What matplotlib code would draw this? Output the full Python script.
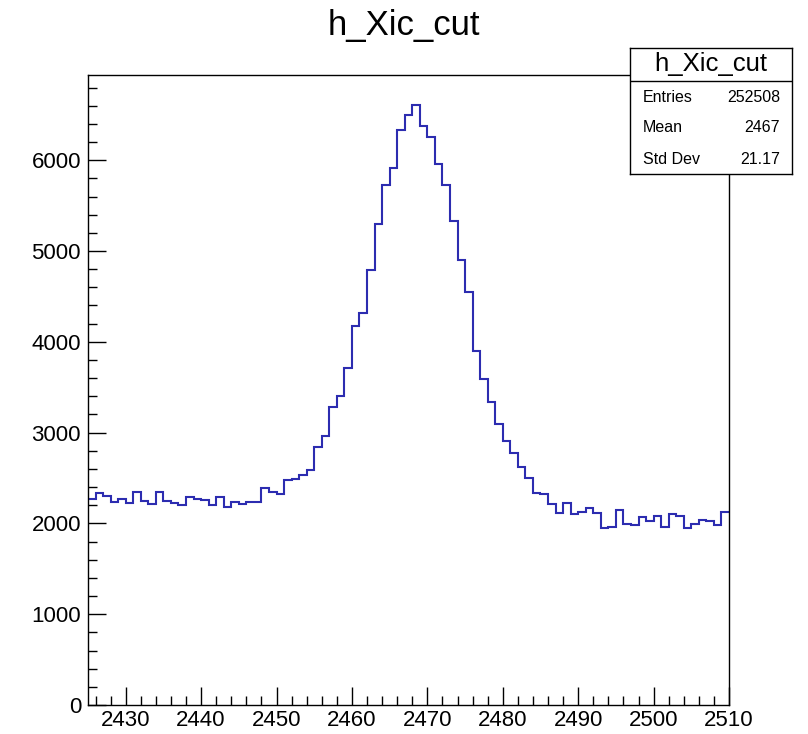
import numpy as np
import matplotlib
matplotlib.use("Agg")
import matplotlib.pyplot as plt
from matplotlib.ticker import MultipleLocator

plt.rcParams['font.family'] = ['Liberation Sans', 'DejaVu Sans']

# histogram h_Xic_cut, 85 bins of width 1 from 2425 to 2510
x_min = 2425
x_max = 2510
counts = [2272, 2330, 2300, 2239, 2272, 2228, 2349, 2250, 2209, 2349,
          2250, 2228, 2198, 2286, 2272, 2256, 2198, 2286, 2179, 2239,
          2212, 2239, 2235, 2393, 2349, 2319, 2476, 2493, 2529, 2584,
          2846, 2963, 3277, 3405, 3711, 4178, 4315, 4796, 5293, 5724,
          5909, 6328, 6497, 6608, 6376, 6251, 5956, 5724, 5334, 4904,
          4550, 3902, 3593, 3339, 3092, 2905, 2772, 2625, 2504, 2334,
          2325, 2213, 2117, 2228, 2106, 2129, 2165, 2117, 1944, 1958,
          2146, 1996, 1980, 2069, 2021, 2087, 1958, 2102, 2087, 1944,
          1996, 2035, 2021, 1977, 2131]
x_ticks = [2430, 2440, 2450, 2460, 2470, 2480, 2490, 2500, 2510]
y_ticks = [0, 1000, 2000, 3000, 4000, 5000, 6000]

stat_labels = ['Entries', 'Mean', 'Std Dev']
stat_values = ['252508', '2467', '21.17']

W, H = 808, 734
fig = plt.figure(figsize=(W / 100, H / 100), dpi=100)
fig.patch.set_facecolor('white')

ax = fig.add_axes([88 / W, (H - 705) / H, 641 / W, 630 / H])
edges = np.linspace(x_min, x_max, len(counts) + 1)
ax.stairs(counts, edges, color='#2c2cb0', linewidth=1.5, baseline=None)

ax.set_xlim(x_min, x_max)
ax.set_ylim(0, max(counts) * 1.05)
ax.set_xticks(x_ticks)
ax.set_yticks(y_ticks)
ax.xaxis.set_minor_locator(MultipleLocator(2))
ax.yaxis.set_minor_locator(MultipleLocator(200))
ax.tick_params(which='both', direction='in', top=False, right=False,
               labelsize=16, width=1, color='black')
ax.tick_params(which='major', length=13)
ax.tick_params(which='minor', length=6.5)
ax.tick_params(axis='x', pad=3.5)
ax.tick_params(axis='y', pad=5)
for s in ax.spines.values():
    s.set_linewidth(1)

fig.text(0.5, 1 - 25 / H, 'h_Xic_cut', ha='center', va='center', fontsize=25)

# stats box
sx0, sx1, sy0, sy1 = 630, 792, 48, 174
box = fig.add_axes([sx0 / W, (H - sy1) / H, (sx1 - sx0) / W, (sy1 - sy0) / H])
box.set_zorder(5)
box.set_facecolor('white')
box.set_xticks([])
box.set_yticks([])
box.set_xlim(0, 1)
box.set_ylim(0, 1)
for s in box.spines.values():
    s.set_linewidth(1)
bh = sy1 - sy0
box.axhline(1 - 33 / bh, color='black', linewidth=1)
box.text(0.5, 1 - 16 / bh, 'h_Xic_cut', ha='center', va='center', fontsize=18.5)
row_y = [97, 128, 159]
for lab, val, yy in zip(stat_labels, stat_values, row_y):
    box.text(13 / 162, (sy1 - yy) / bh, lab, ha='left', va='center', fontsize=11.5)
    box.text(150 / 162, (sy1 - yy) / bh, val, ha='right', va='center', fontsize=11.5)

fig.savefig('out.png', dpi=100)
